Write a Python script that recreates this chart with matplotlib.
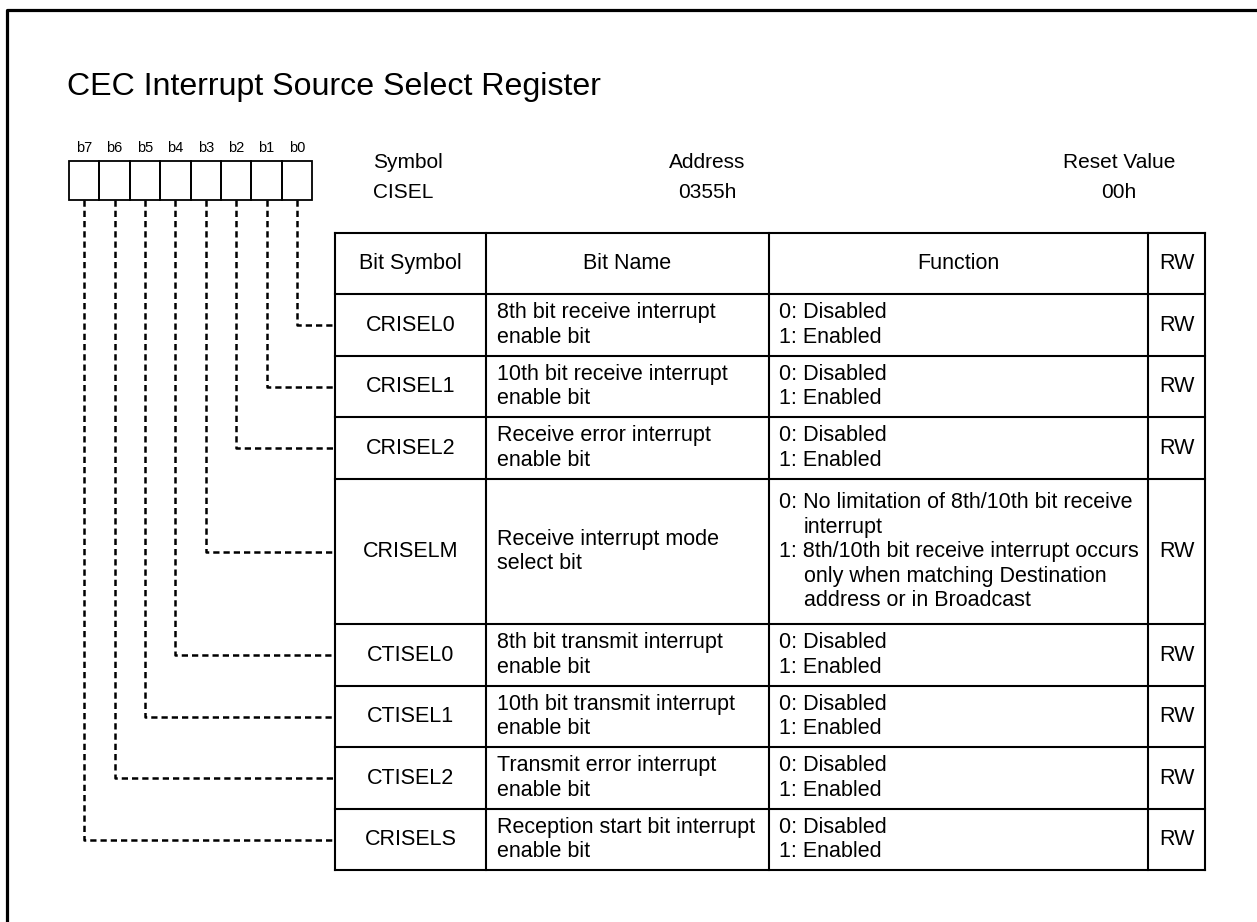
import matplotlib.pyplot as plt
from matplotlib.patches import Rectangle

plt.rcParams['font.family'] = ['Liberation Sans', 'DejaVu Sans']

# register data
title = "CEC Interrupt Source Select Register"
bit_labels = ['b7', 'b6', 'b5', 'b4', 'b3', 'b2', 'b1', 'b0']
info_heads = ['Symbol', 'Address', 'Reset Value']
info_values = ['CISEL', '0355h', '00h']
col_heads = ['Bit Symbol', 'Bit Name', 'Function', 'RW']
bit_symbols = ['CRISEL0', 'CRISEL1', 'CRISEL2', 'CRISELM',
               'CTISEL0', 'CTISEL1', 'CTISEL2', 'CRISELS']
bit_numbers = [0, 1, 2, 3, 4, 5, 6, 7]
bit_names = [
    ['8th bit receive interrupt', 'enable bit'],
    ['10th bit receive interrupt', 'enable bit'],
    ['Receive error interrupt', 'enable bit'],
    ['Receive interrupt mode', 'select bit'],
    ['8th bit transmit interrupt', 'enable bit'],
    ['10th bit transmit interrupt', 'enable bit'],
    ['Transmit error interrupt', 'enable bit'],
    ['Reception start bit interrupt', 'enable bit'],
]
dis_en = [['0: Disabled'], ['1: Enabled']]
functions = [
    dis_en, dis_en, dis_en,
    [['0: No limitation of 8th/10th bit receive', 'interrupt'],
     ['1: 8th/10th bit receive interrupt occurs', 'only when matching Destination',
      'address or in Broadcast']],
    dis_en, dis_en, dis_en, dis_en,
]
access = ['RW'] * 8

# layout (pixels)
W, H = 1257, 922
col_x = [335, 486, 769, 1148, 1205]
table_top, head_bot = 233, 294
row_h = [62, 61, 62, 145, 62, 61, 62, 61]
box_x0, box_w, box_top, box_bot = 69, 30.4, 161, 200
line_gap = 24.5
fs = 15.5

fig = plt.figure(figsize=(W / 100, H / 100), dpi=100)
ax = fig.add_axes([0, 0, 1, 1])
ax.set_xlim(0, W)
ax.set_ylim(H, 0)
ax.axis('off')

# outer frame (top and left only visible)
ax.plot([6.5, 6.5, W], [H, 10, 10], color='black', lw=2.3, solid_capstyle='butt')

ax.text(67, 95, title, fontsize=23.1, ha='left', va='baseline')

# bit boxes
for j, lab in enumerate(bit_labels):
    ax.add_patch(Rectangle((box_x0 + j * box_w, box_top), box_w, box_bot - box_top,
                           fill=False, lw=1.3, ec='black'))
    ax.text(box_x0 + (j + 0.5) * box_w, 148, lab, fontsize=10.5, ha='center', va='center')

# symbol / address / reset value
ax.text(373, 162, info_heads[0], fontsize=fs - 0.5, ha='left', va='center')
ax.text(373, 192, info_values[0], fontsize=fs - 0.5, ha='left', va='center')
for cx, hd, val in zip([707, 1119], info_heads[1:], info_values[1:]):
    ax.text(cx, 162, hd, fontsize=fs - 0.5, ha='center', va='center')
    ax.text(cx, 192, val, fontsize=fs - 0.5, ha='center', va='center')

# table rows
row_edges = [table_top, head_bot]
for h in row_h:
    row_edges.append(row_edges[-1] + h)

for y in row_edges:
    ax.plot([col_x[0], col_x[-1]], [y, y], color='black', lw=1.5)
for x in col_x:
    ax.plot([x, x], [table_top, row_edges[-1]], color='black', lw=1.5)

hy = (table_top + head_bot) / 2
for i, hd in enumerate(col_heads):
    ax.text((col_x[i] + col_x[i + 1]) / 2, hy, hd, fontsize=fs, ha='center', va='center')


def lines_at(yc, n):
    return [yc + (k - (n - 1) / 2) * line_gap for k in range(n)]


for r in range(len(bit_symbols)):
    y0, y1 = row_edges[r + 1], row_edges[r + 2]
    yc = (y0 + y1) / 2
    ax.text((col_x[0] + col_x[1]) / 2, yc, bit_symbols[r], fontsize=fs,
            ha='center', va='center')
    for y, s in zip(lines_at(yc, len(bit_names[r])), bit_names[r]):
        ax.text(col_x[1] + 11, y, s, fontsize=fs, ha='left', va='center')
    flines = []
    for opt in functions[r]:
        flines.append((0, opt[0]))
        for cont in opt[1:]:
            flines.append((25, cont))
    for y, (ind, s) in zip(lines_at(yc, len(flines)), flines):
        ax.text(col_x[2] + 10 + ind, y, s, fontsize=fs, ha='left', va='center')
    ax.text((col_x[3] + col_x[4]) / 2, yc, access[r], fontsize=fs,
            ha='center', va='center')

    # dashed leader from bit box to row
    j = 7 - bit_numbers[r]
    bx = box_x0 + (j + 0.5) * box_w
    ax.plot([bx, bx, col_x[0]], [box_bot, yc, yc], color='black', lw=1.8,
            dashes=(2.5, 1.6))

fig.savefig('out.png', dpi=100)
